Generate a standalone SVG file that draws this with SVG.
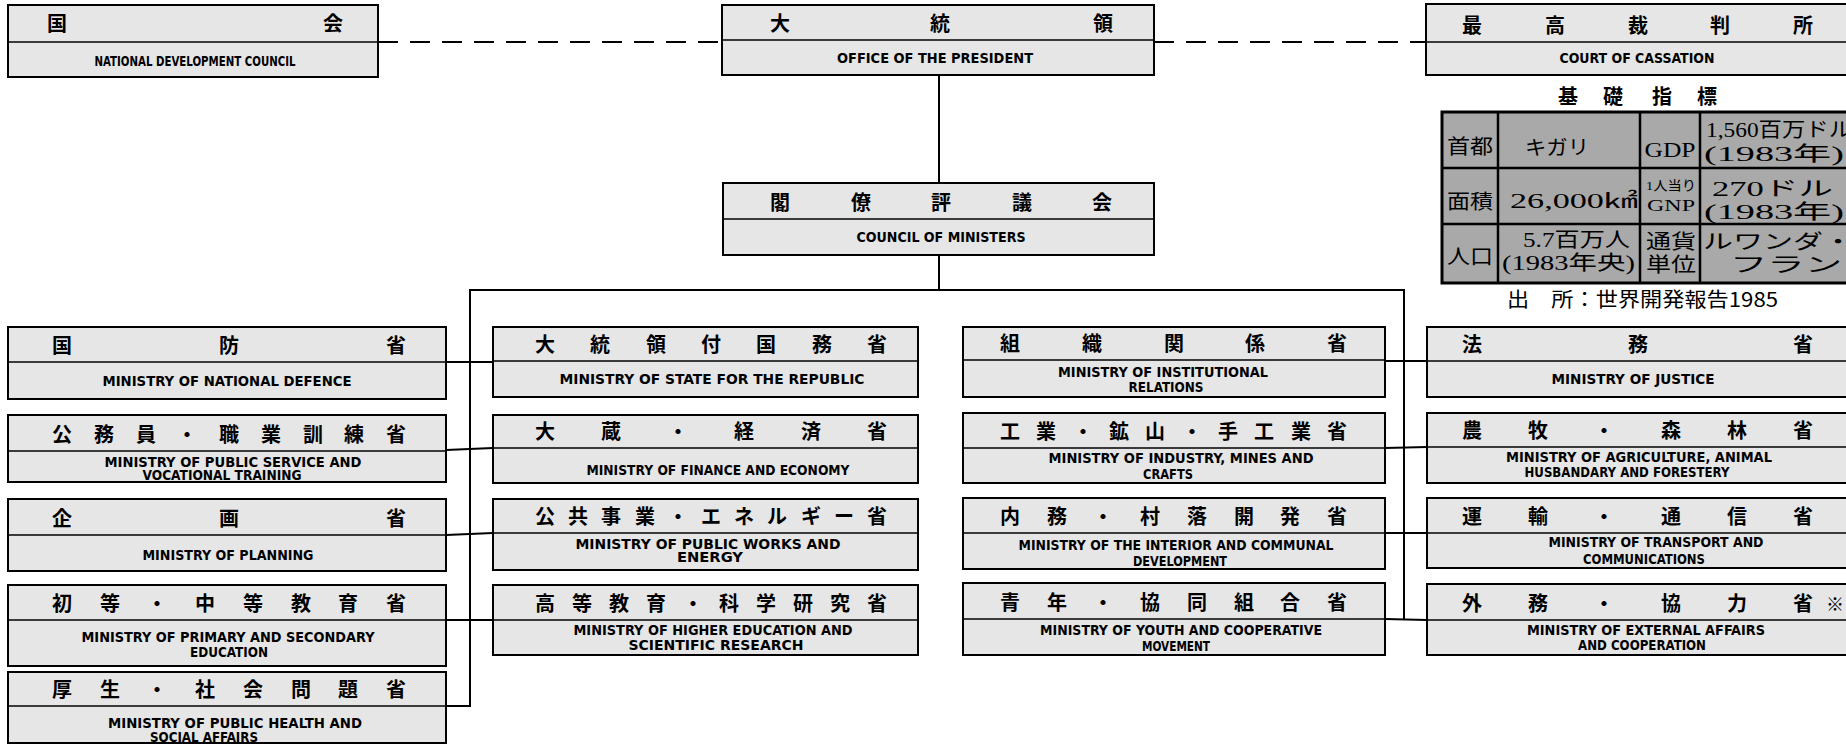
<svg xmlns="http://www.w3.org/2000/svg" width="1846" height="744" viewBox="0 0 1846 744">
<style>
.box{fill:#e6e6e6;stroke:#000;stroke-width:2}
.dv{stroke:#000;stroke-width:1.5}
.jp{font-family:"Noto Sans CJK JP",sans-serif;font-size:20px;font-weight:700;text-anchor:middle;fill:#000}
.en{font-family:"DejaVu Sans Condensed","Liberation Sans",sans-serif;font-size:14px;font-weight:700;text-anchor:middle;fill:#000}
.conn{stroke:#000;stroke-width:2;fill:none}
.dash{stroke-dasharray:20 12}
.tb{fill:#a9a9a9;stroke:#000;stroke-width:3}
.tl{stroke:#000;stroke-width:2.5}
.tt{font-family:"Liberation Serif","Noto Sans CJK JP",serif;font-size:20px;fill:#000}
.mid{text-anchor:middle}
.hd{font-family:"Noto Sans CJK JP",sans-serif;font-size:20px;font-weight:700;text-anchor:middle;fill:#000}
.src{font-family:"Noto Sans CJK JP",sans-serif;font-size:20px;fill:#000}
</style>
<rect width="1846" height="744" fill="#fff"/>

<g id="connectors">
<line class="conn dash" x1="378" y1="42" x2="722" y2="42"/>
<line class="conn dash" x1="1154" y1="42" x2="1426" y2="42"/>
<line class="conn" x1="939" y1="75" x2="939" y2="183"/>
<line class="conn" x1="939" y1="255" x2="939" y2="290"/>
<line class="conn" x1="469" y1="290" x2="1405" y2="290"/>
<line class="conn" x1="470" y1="289" x2="470" y2="707"/>
<line class="conn" x1="1404" y1="289" x2="1404" y2="620"/>
<line class="conn" x1="446" y1="362" x2="493" y2="362"/>
<line class="conn" x1="446" y1="450" x2="493" y2="448"/>
<line class="conn" x1="446" y1="535" x2="493" y2="533"/>
<line class="conn" x1="446" y1="620" x2="493" y2="620"/>
<line class="conn" x1="446" y1="706" x2="470" y2="706"/>
<line class="conn" x1="1385" y1="361" x2="1427" y2="361"/>
<line class="conn" x1="1385" y1="448" x2="1427" y2="447"/>
<line class="conn" x1="1385" y1="533" x2="1427" y2="533"/>
<line class="conn" x1="1385" y1="619" x2="1427" y2="620"/>
</g>

<g id="n-ndc">
<rect class="box" x="8" y="5" width="370" height="72"/>
<line class="dv" x1="8" y1="42" x2="378" y2="42"/>
<text class="jp" x="57 333" y="31">国会</text>
<text class="en" x="195" y="66" textLength="201" lengthAdjust="spacingAndGlyphs">NATIONAL DEVELOPMENT COUNCIL</text>
</g>

<g id="n-president">
<rect class="box" x="722" y="5" width="432" height="70"/>
<line class="dv" x1="722" y1="40" x2="1154" y2="40"/>
<text class="jp" x="780 940 1103" y="31">大統領</text>
<text class="en" x="935" y="63" textLength="196" lengthAdjust="spacingAndGlyphs">OFFICE OF THE PRESIDENT</text>
</g>

<g id="n-court">
<rect class="box" x="1426" y="4" width="440" height="71"/>
<line class="dv" x1="1426" y1="42" x2="1866" y2="42"/>
<text class="jp" x="1472 1555 1638 1720 1803" y="33">最高裁判所</text>
<text class="en" x="1637" y="63" textLength="155" lengthAdjust="spacingAndGlyphs">COURT OF CASSATION</text>
</g>

<g id="n-council">
<rect class="box" x="723" y="183" width="431" height="72"/>
<line class="dv" x1="723" y1="219" x2="1154" y2="219"/>
<text class="jp" x="780 861 941 1022 1102" y="210">閣僚評議会</text>
<text class="en" x="941" y="242" textLength="169" lengthAdjust="spacingAndGlyphs">COUNCIL OF MINISTERS</text>
</g>

<!-- column 1 -->
<g id="n-defence">
<rect class="box" x="8" y="327" width="438" height="72"/>
<line class="dv" x1="8" y1="362" x2="446" y2="362"/>
<text class="jp" x="62 229 396" y="353">国防省</text>
<text class="en" x="227" y="386" textLength="249" lengthAdjust="spacingAndGlyphs">MINISTRY OF NATIONAL DEFENCE</text>
</g>
<g id="n-publicservice">
<rect class="box" x="8" y="415" width="438" height="67"/>
<line class="dv" x1="8" y1="451" x2="446" y2="451"/>
<text class="jp" x="62 104 146 187 229 271 313 354 396" y="442">公務員・職業訓練省</text>
<text class="en" x="233" y="467" textLength="257" lengthAdjust="spacingAndGlyphs">MINISTRY OF PUBLIC SERVICE AND</text>
<text class="en" x="222" y="480" textLength="159" lengthAdjust="spacingAndGlyphs">VOCATIONAL TRAINING</text>
</g>
<g id="n-planning">
<rect class="box" x="8" y="499" width="438" height="72"/>
<line class="dv" x1="8" y1="535" x2="446" y2="535"/>
<text class="jp" x="62 229 396" y="526">企画省</text>
<text class="en" x="228" y="560" textLength="171" lengthAdjust="spacingAndGlyphs">MINISTRY OF PLANNING</text>
</g>
<g id="n-primaryedu">
<rect class="box" x="8" y="585" width="438" height="81"/>
<line class="dv" x1="8" y1="620" x2="446" y2="620"/>
<text class="jp" x="62 110 157 205 253 301 348 396" y="611">初等・中等教育省</text>
<text class="en" x="228" y="642" textLength="293" lengthAdjust="spacingAndGlyphs">MINISTRY OF PRIMARY AND SECONDARY</text>
<text class="en" x="229" y="657" textLength="78" lengthAdjust="spacingAndGlyphs">EDUCATION</text>
</g>
<g id="n-health">
<rect class="box" x="8" y="672" width="438" height="71"/>
<line class="dv" x1="8" y1="706" x2="446" y2="706"/>
<text class="jp" x="62 110 157 205 253 301 348 396" y="697">厚生・社会問題省</text>
<text class="en" x="235" y="728" textLength="254" lengthAdjust="spacingAndGlyphs">MINISTRY OF PUBLIC HEALTH AND</text>
<text class="en" x="204" y="742" textLength="108" lengthAdjust="spacingAndGlyphs">SOCIAL AFFAIRS</text>
</g>

<!-- column 2 -->
<g id="n-state">
<rect class="box" x="493" y="327" width="425" height="70"/>
<line class="dv" x1="493" y1="361" x2="918" y2="361"/>
<text class="jp" x="545 600 656 711 766 822 877" y="352">大統領付国務省</text>
<text class="en" x="712" y="384" textLength="305" lengthAdjust="spacingAndGlyphs">MINISTRY OF STATE FOR THE REPUBLIC</text>
</g>
<g id="n-finance">
<rect class="box" x="493" y="415" width="425" height="68"/>
<line class="dv" x1="493" y1="448" x2="918" y2="448"/>
<text class="jp" x="545 611 678 744 811 877" y="439">大蔵・経済省</text>
<text class="en" x="718" y="475" textLength="263" lengthAdjust="spacingAndGlyphs">MINISTRY OF FINANCE AND ECONOMY</text>
</g>
<g id="n-publicworks">
<rect class="box" x="493" y="499" width="425" height="71"/>
<line class="dv" x1="493" y1="533" x2="918" y2="533"/>
<text class="jp" x="545 578 611 645 678 711 744 777 811 844 877" y="524">公共事業・エネルギー省</text>
<text class="en" x="708" y="549" textLength="265" lengthAdjust="spacingAndGlyphs">MINISTRY OF PUBLIC WORKS AND</text>
<text class="en" x="710" y="562" textLength="66" lengthAdjust="spacingAndGlyphs">ENERGY</text>
</g>
<g id="n-higheredu">
<rect class="box" x="493" y="585" width="425" height="70"/>
<line class="dv" x1="493" y1="620" x2="918" y2="620"/>
<text class="jp" x="545 582 619 656 693 729 766 803 840 877" y="611">高等教育・科学研究省</text>
<text class="en" x="713" y="635" textLength="279" lengthAdjust="spacingAndGlyphs">MINISTRY OF HIGHER EDUCATION AND</text>
<text class="en" x="716" y="650" textLength="175" lengthAdjust="spacingAndGlyphs">SCIENTIFIC RESEARCH</text>
</g>

<!-- column 3 -->
<g id="n-institutional">
<rect class="box" x="963" y="327" width="422" height="70"/>
<line class="dv" x1="963" y1="360" x2="1385" y2="360"/>
<text class="jp" x="1010 1092 1174 1255 1337" y="351">組織関係省</text>
<text class="en" x="1163" y="377" textLength="210" lengthAdjust="spacingAndGlyphs">MINISTRY OF INSTITUTIONAL</text>
<text class="en" x="1166" y="392" textLength="75" lengthAdjust="spacingAndGlyphs">RELATIONS</text>
</g>
<g id="n-industry">
<rect class="box" x="963" y="413" width="422" height="70"/>
<line class="dv" x1="963" y1="448" x2="1385" y2="448"/>
<text class="jp" x="1010 1046 1083 1119 1155 1192 1228 1264 1301 1337" y="439">工業・鉱山・手工業省</text>
<text class="en" x="1181" y="463" textLength="265" lengthAdjust="spacingAndGlyphs">MINISTRY OF INDUSTRY, MINES AND</text>
<text class="en" x="1168" y="479" textLength="50" lengthAdjust="spacingAndGlyphs">CRAFTS</text>
</g>
<g id="n-interior">
<rect class="box" x="963" y="498" width="422" height="71"/>
<line class="dv" x1="963" y1="533" x2="1385" y2="533"/>
<text class="jp" x="1010 1057 1103 1150 1197 1244 1290 1337" y="524">内務・村落開発省</text>
<text class="en" x="1176" y="550" textLength="315" lengthAdjust="spacingAndGlyphs">MINISTRY OF THE INTERIOR AND COMMUNAL</text>
<text class="en" x="1180" y="566" textLength="94" lengthAdjust="spacingAndGlyphs">DEVELOPMENT</text>
</g>
<g id="n-youth">
<rect class="box" x="963" y="583" width="422" height="72"/>
<line class="dv" x1="963" y1="619" x2="1385" y2="619"/>
<text class="jp" x="1010 1057 1103 1150 1197 1244 1290 1337" y="610">青年・協同組合省</text>
<text class="en" x="1181" y="635" textLength="282" lengthAdjust="spacingAndGlyphs">MINISTRY OF YOUTH AND COOPERATIVE</text>
<text class="en" x="1176" y="651" textLength="68" lengthAdjust="spacingAndGlyphs">MOVEMENT</text>
</g>

<!-- column 4 -->
<g id="n-justice">
<rect class="box" x="1427" y="327" width="440" height="70"/>
<line class="dv" x1="1427" y1="361" x2="1867" y2="361"/>
<text class="jp" x="1472 1638 1803" y="352">法務省</text>
<text class="en" x="1633" y="384" textLength="163" lengthAdjust="spacingAndGlyphs">MINISTRY OF JUSTICE</text>
</g>
<g id="n-agriculture">
<rect class="box" x="1427" y="413" width="440" height="70"/>
<line class="dv" x1="1427" y1="447" x2="1867" y2="447"/>
<text class="jp" x="1472 1538 1604 1671 1737 1803" y="438">農牧・森林省</text>
<text class="en" x="1639" y="462" textLength="266" lengthAdjust="spacingAndGlyphs">MINISTRY OF AGRICULTURE, ANIMAL</text>
<text class="en" x="1627" y="477" textLength="205" lengthAdjust="spacingAndGlyphs">HUSBANDARY AND FORESTERY</text>
</g>
<g id="n-transport">
<rect class="box" x="1427" y="498" width="440" height="70"/>
<line class="dv" x1="1427" y1="533" x2="1867" y2="533"/>
<text class="jp" x="1472 1538 1604 1671 1737 1803" y="524">運輸・通信省</text>
<text class="en" x="1656" y="547" textLength="215" lengthAdjust="spacingAndGlyphs">MINISTRY OF TRANSPORT AND</text>
<text class="en" x="1644" y="564" textLength="122" lengthAdjust="spacingAndGlyphs">COMMUNICATIONS</text>
</g>
<g id="n-external">
<rect class="box" x="1427" y="584" width="440" height="71"/>
<line class="dv" x1="1427" y1="620" x2="1867" y2="620"/>
<text class="jp" x="1472 1538 1604 1671 1737 1803" y="611">外務・協力省</text>
<text class="jp" x="1835" y="611" style="font-size:18px">※</text>
<text class="en" x="1646" y="635" textLength="238" lengthAdjust="spacingAndGlyphs">MINISTRY OF EXTERNAL AFFAIRS</text>
<text class="en" x="1642" y="650" textLength="128" lengthAdjust="spacingAndGlyphs">AND COOPERATION</text>
</g>

<!-- indicator table -->
<g id="indicators">
<text class="hd" x="1568 1613 1662 1707" y="104">基礎指標</text>
<rect class="tb" x="1442" y="112" width="430" height="171"/>
<line class="tl" x1="1442" y1="168" x2="1872" y2="168"/>
<line class="tl" x1="1442" y1="224" x2="1872" y2="224"/>
<line class="tl" x1="1498" y1="112" x2="1498" y2="283"/>
<line class="tl" x1="1640" y1="112" x2="1640" y2="283"/>
<line class="tl" x1="1700" y1="112" x2="1700" y2="283"/>
<text class="tt mid" x="1470" y="154" font-size="22" textLength="46" lengthAdjust="spacingAndGlyphs">首都</text>
<text class="tt mid" x="1557" y="155" font-size="22" textLength="64" lengthAdjust="spacingAndGlyphs">キガリ</text>
<text class="tt mid" x="1670" y="157" font-size="22" textLength="51" lengthAdjust="spacingAndGlyphs">GDP</text>
<text class="tt" x="1706" y="137" textLength="146" lengthAdjust="spacingAndGlyphs">1,560百万ドル</text>
<text class="tt" x="1704" y="161" textLength="140" lengthAdjust="spacingAndGlyphs">(1983年)</text>
<text class="tt mid" x="1470" y="209" font-size="22" textLength="46" lengthAdjust="spacingAndGlyphs">面積</text>
<text class="tt" x="1510" y="208" font-size="22" textLength="128" lengthAdjust="spacingAndGlyphs">26,000㎢</text>
<text class="tt mid" x="1671" y="190" style="font-size:13px" textLength="50" lengthAdjust="spacingAndGlyphs">1人当り</text>
<text class="tt mid" x="1671" y="211" style="font-size:16px" textLength="48" lengthAdjust="spacingAndGlyphs">GNP</text>
<text class="tt" x="1712" y="196" textLength="121" lengthAdjust="spacingAndGlyphs">270ドル</text>
<text class="tt" x="1704" y="219" textLength="140" lengthAdjust="spacingAndGlyphs">(1983年)</text>
<text class="tt mid" x="1470" y="264" font-size="22" textLength="46" lengthAdjust="spacingAndGlyphs">人口</text>
<text class="tt" x="1523" y="247" textLength="107" lengthAdjust="spacingAndGlyphs">5.7百万人</text>
<text class="tt" x="1502" y="270" textLength="133" lengthAdjust="spacingAndGlyphs">(1983年央)</text>
<text class="tt mid" x="1671" y="249" textLength="50" lengthAdjust="spacingAndGlyphs">通貨</text>
<text class="tt mid" x="1671" y="272" textLength="50" lengthAdjust="spacingAndGlyphs">単位</text>
<text class="tt" x="1703" y="249" textLength="150" lengthAdjust="spacingAndGlyphs">ルワンダ・</text>
<text class="tt" x="1730" y="272" textLength="112" lengthAdjust="spacingAndGlyphs">フラン</text>
<text class="src" x="1507" y="307" textLength="271" lengthAdjust="spacingAndGlyphs">出　所：世界開発報告1985</text>
</g>
</svg>
